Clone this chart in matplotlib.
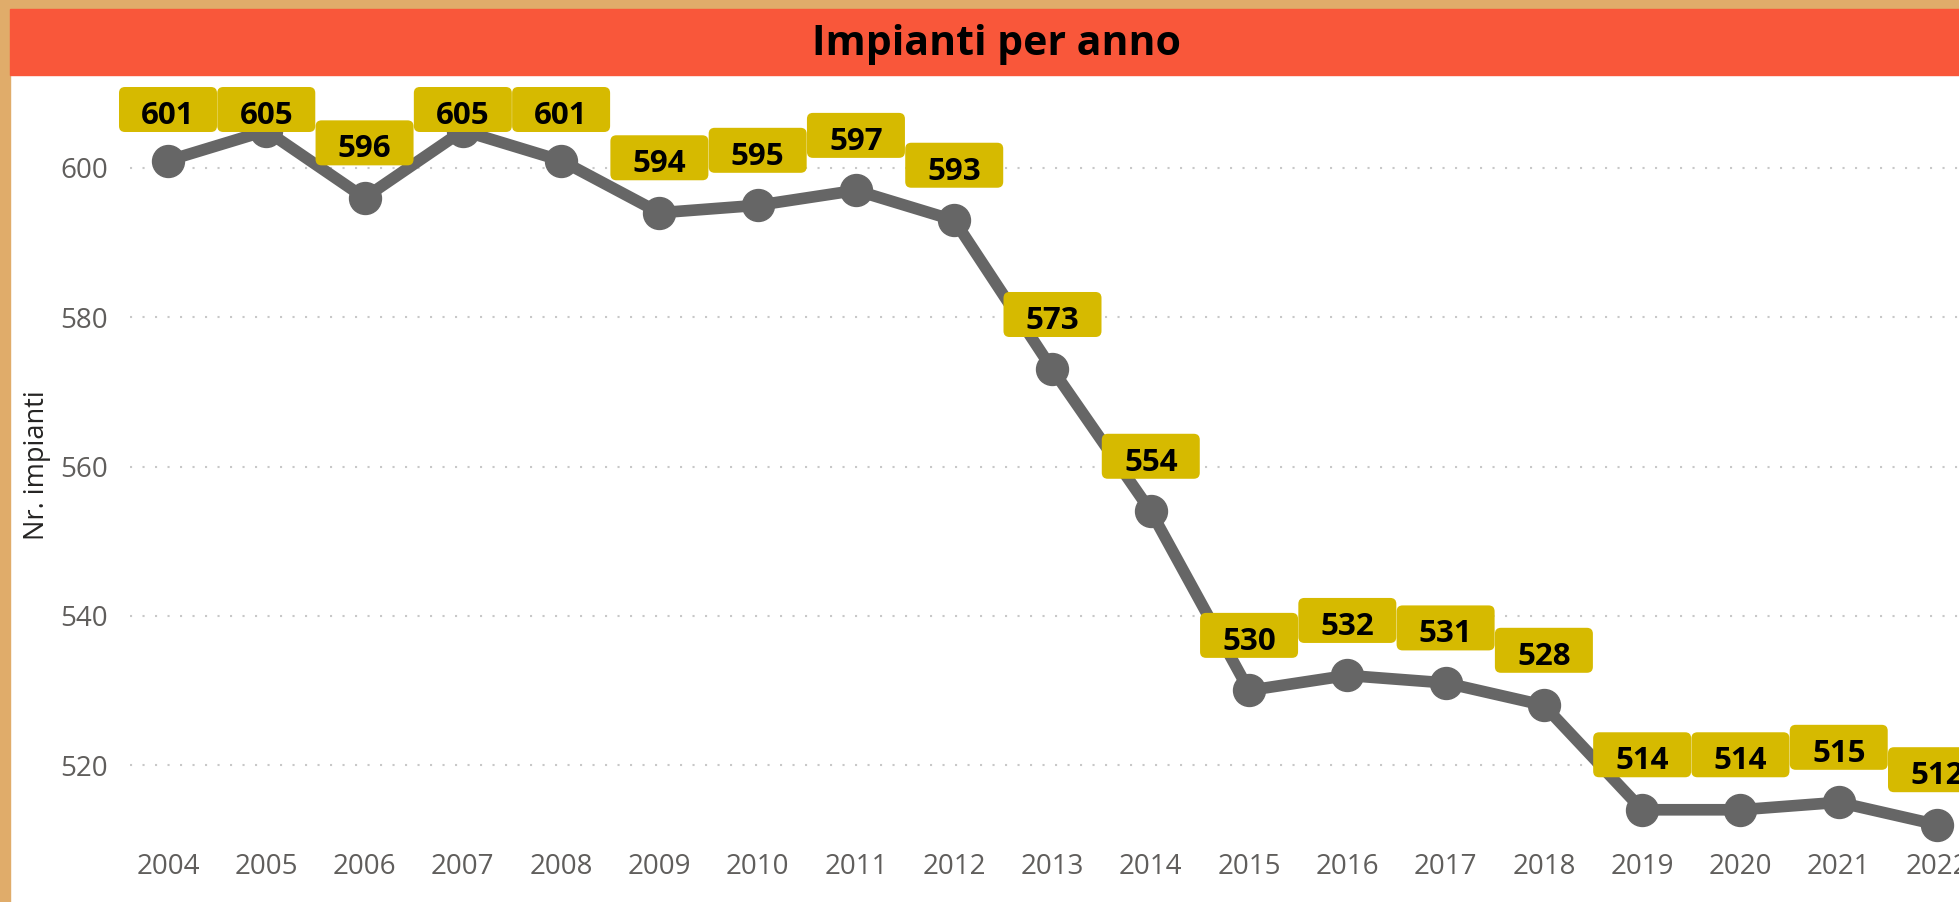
import matplotlib
matplotlib.use("Agg")
import matplotlib.pyplot as plt
from matplotlib.patches import FancyBboxPatch, Rectangle
from matplotlib.transforms import IdentityTransform

# ---- data ----
years = ["2004", "2005", "2006", "2007", "2008", "2009", "2010", "2011", "2012", "2013",
         "2014", "2015", "2016", "2017", "2018", "2019", "2020", "2021", "2022"]
impianti = [601, 605, 596, 605, 601, 594, 595, 597, 593, 573,
            554, 530, 532, 531, 528, 514, 514, 515, 512]
y_ticks = [520, 540, 560, 580, 600]
title = "Impianti per anno"
y_label = "Nr. impianti"

# ---- style ----
FONT = "Open Sans"
BORDER = "#E0AC6A"
BAND = "#F9573A"
LINE = "#666666"
LABEL_BG = "#D6BA00"
TICK_C = "#605E5C"

W, H = 1959, 902
fig = plt.figure(figsize=(W / 100, H / 100), dpi=100)
fig.patch.set_facecolor("white")

# frame: top and left border, title band
fig.add_artist(Rectangle((0, 0), 10 / W, 1, transform=fig.transFigure, color=BORDER, zorder=0))
fig.add_artist(Rectangle((0, 1 - 9 / H), 1, 9 / H, transform=fig.transFigure, color=BORDER, zorder=0))
fig.add_artist(Rectangle((10 / W, 1 - 75 / H), 1, 66 / H, transform=fig.transFigure, color=BAND, zorder=0))
fig.text(997 / W, 1 - 55 / H, title, ha="center", va="baseline", fontsize=29.5,
         fontweight="bold", family=FONT, color="black")

# axes
ax_left, ax_right, ax_top, ax_bot = 130, 1959, 85, 845
ax = fig.add_axes([ax_left / W, 1 - ax_bot / H, (ax_right - ax_left) / W, (ax_bot - ax_top) / H])
ax.set_facecolor("none")
for s in ax.spines.values():
    s.set_visible(False)

x = list(range(len(years)))
px_per_cat = (1937 - 168) / 18
ax.set_xlim(-(168 - ax_left) / px_per_cat, 18 + (ax_right - 1937) / px_per_cat)
px_per_unit = (765 - 168) / 80
ax.set_ylim(520 - (ax_bot - 765) / px_per_unit, 600 + (168 - ax_top) / px_per_unit)

ax.set_yticks(y_ticks)
ax.set_yticklabels([str(v) for v in y_ticks], family=FONT, fontsize=20, color=TICK_C)
ax.set_xticks(x)
ax.set_xticklabels(years, family=FONT, fontsize=20, color=TICK_C)
ax.tick_params(axis="both", length=0)
ax.tick_params(axis="y", pad=16)
ax.tick_params(axis="x", pad=6)
ax.grid(axis="y", color="#C8C8C8", linewidth=1.5, linestyle=(0, (1, 5)))
ax.grid(axis="x", visible=False)
ax.set_axisbelow(True)

ax.set_ylabel(y_label, family=FONT, fontsize=19.5, color="#252423", labelpad=0,
              va="center")
ax.yaxis.set_label_coords((37 - ax_left) / (ax_right - ax_left), 0.5)

ax.plot(x, impianti, color=LINE, linewidth=8.4, marker="o", markersize=23,
        solid_joinstyle="round", solid_capstyle="round", clip_on=False, zorder=3)

# data labels (boxes in display pixels)
bw, bh, off = 98, 45, 55
max_center = (H - 87) - bh / 2
for xi, yi in zip(x, impianti):
    dx, dy = ax.transData.transform((xi, yi))
    cy = min(dy + off, max_center)
    fig.add_artist(FancyBboxPatch((dx - bw / 2, cy - bh / 2), bw, bh,
                                  boxstyle="round,pad=0,rounding_size=6",
                                  transform=IdentityTransform(), facecolor=LABEL_BG,
                                  edgecolor="none", zorder=4))
    fig.text(dx, cy - 3, str(yi), transform=IdentityTransform(), ha="center",
             va="center_baseline", fontsize=22.5, fontweight="bold", family=FONT,
             color="black", zorder=5)

fig.savefig("out.png", dpi=100)
